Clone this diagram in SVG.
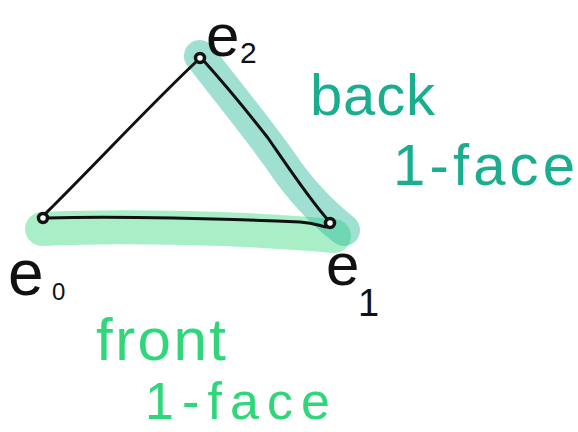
<svg xmlns="http://www.w3.org/2000/svg" width="578" height="432" viewBox="0 0 578 432">
<style>
.hl{fill:none;stroke-linecap:round;stroke-linejoin:round;stroke-opacity:0.45}
.edge{fill:none;stroke:#111;stroke-width:3;stroke-linecap:round;stroke-linejoin:round}
.vtx{fill:#fff;stroke:#111;stroke-width:3.5}
.lbl{font-family:"Liberation Sans",Arial,sans-serif;fill:#111}
.back{font-family:"Liberation Sans",Arial,sans-serif;fill:#1aae8e}
.front{font-family:"Liberation Sans",Arial,sans-serif;fill:#2fd77a}
</style>
<rect width="578" height="432" fill="#fff"/>
<g id="highlights">
<path class="hl" d="M42,229 C120,225 250,228 334,236" stroke="#3ddc84" stroke-width="34"/>
<path class="hl" d="M200,56 C230,95 255,125 280,160 C300,190 325,215 344,230" stroke="#2dbb9c" stroke-width="32"/>
</g>
<g id="connectors">
<path class="edge" d="M44,215 C90,170 150,105 197,61"/>
<path class="edge" d="M203,60 C230,90 250,115 268,138 C290,170 310,200 328,220"/>
<path class="edge" d="M47,218 C120,216 200,218 300,222 C315,223 320,226 326,227"/>
</g>
<g id="e0">
<circle class="vtx" cx="43" cy="218" r="4.5"/>
<text class="lbl" x="8" y="295" font-size="64">e</text>
<text class="lbl" x="52" y="300" font-size="24">0</text>
</g>
<g id="e1">
<circle class="vtx" cx="330" cy="223" r="4.5"/>
<text class="lbl" x="326" y="285" font-size="60">e</text>
<text class="lbl" x="358" y="316" font-size="38">1</text>
</g>
<g id="e2">
<circle class="vtx" cx="200" cy="58" r="4.5"/>
<text class="lbl" x="206" y="56" font-size="60">e</text>
<text class="lbl" x="240" y="63" font-size="30">2</text>
</g>
<g id="back-label">
<text class="back" x="310" y="115" font-size="58" textLength="125">back</text>
<text class="back" x="393" y="185" font-size="58" textLength="182">1-face</text>
</g>
<g id="front-label">
<text class="front" x="96" y="360" font-size="60" textLength="130">front</text>
<text class="front" x="145" y="419" font-size="52" textLength="185">1-face</text>
</g>
</svg>
